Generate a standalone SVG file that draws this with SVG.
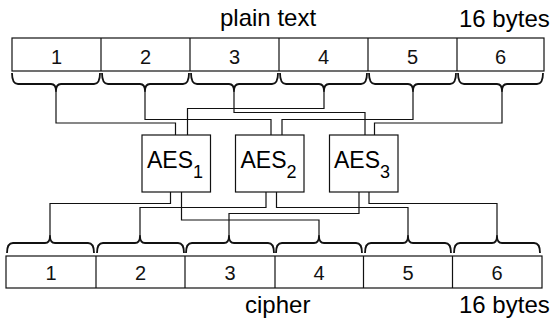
<svg xmlns="http://www.w3.org/2000/svg" width="554" height="324" viewBox="0 0 554 324">
  <style>
    .cell { fill: #fff; stroke: #111; stroke-width: 1.2; }
    .num { font-family: "Liberation Sans", Arial, sans-serif; font-size: 20px; fill: #111; text-anchor: middle; }
    .lbl { font-family: "Liberation Sans", Arial, sans-serif; font-size: 24px; fill: #000; }
    .aes { font-family: "Liberation Sans", Arial, sans-serif; font-size: 23px; fill: #000; }
    .sub { font-size: 18px; }
    .brace { fill: none; stroke: #111; stroke-width: 1.8; stroke-linejoin: round; }
    .wire { fill: none; stroke: #111; stroke-width: 1.2; }
    .box { fill: #fff; stroke: #111; stroke-width: 1.2; }
  </style>

  <!-- plaintext block -->
  <g id="plain">
    <text class="lbl" x="220" y="26">plain text</text>
    <text class="lbl" x="459" y="27">16 bytes</text>
    <rect class="cell" x="12" y="38" width="532" height="33"/>
    <path class="cell" d="M101,38V71M190,38V71M279,38V71M368,38V71M457,38V71"/>
    <text class="num" x="56.5" y="64">1</text>
    <text class="num" x="145.5" y="64">2</text>
    <text class="num" x="234.5" y="64">3</text>
    <text class="num" x="323.5" y="64">4</text>
    <text class="num" x="412.5" y="64">5</text>
    <text class="num" x="500.5" y="64">6</text>
    <!-- braces under each plaintext cell -->
    <path class="brace" d="M12,73Q12,84 18,84L51,84Q56,84 56,91Q56,84 61,84L94,84Q100,84 100,73"/>
    <path class="brace" d="M102,73Q102,84 108,84L140,84Q145,84 145,91Q145,84 150,84L183,84Q189,84 189,73"/>
    <path class="brace" d="M191,73Q191,84 197,84L229,84Q234,84 234,91Q234,84 239,84L272,84Q278,84 278,73"/>
    <path class="brace" d="M280,73Q280,84 286,84L319,84Q324,84 324,91Q324,84 329,84L361,84Q367,84 367,73"/>
    <path class="brace" d="M369,73Q369,84 375,84L408,84Q413,84 413,91Q413,84 418,84L450,84Q456,84 456,73"/>
    <path class="brace" d="M458,73Q458,84 464,84L497,84Q502,84 502,91Q502,84 507,84L537,84Q543,84 543,73"/>
  </g>

  <!-- cipher block -->
  <g id="cipher">
    <rect class="cell" x="6" y="256" width="536" height="32"/>
    <path class="cell" d="M96,256V288M185,256V288M275,256V288M363.5,256V288M452.5,256V288"/>
    <text class="num" x="51" y="280">1</text>
    <text class="num" x="140.5" y="280">2</text>
    <text class="num" x="230" y="280">3</text>
    <text class="num" x="319" y="280">4</text>
    <text class="num" x="408" y="280">5</text>
    <text class="num" x="497" y="280">6</text>
    <text class="lbl" x="245" y="313">cipher</text>
    <text class="lbl" x="459" y="313">16 bytes</text>
    <!-- braces above each cipher cell -->
    <path class="brace" d="M7,253Q7,243 13,243L45,243Q50,243 50,236Q50,243 55,243L88,243Q94,243 94,253"/>
    <path class="brace" d="M97,253Q97,243 103,243L135,243Q140,243 140,236Q140,243 145,243L178,243Q184,243 184,253"/>
    <path class="brace" d="M186,253Q186,243 192,243L224,243Q229,243 229,236Q229,243 234,243L268,243Q274,243 274,253"/>
    <path class="brace" d="M276,253Q276,243 282,243L314,243Q319,243 319,236Q319,243 324,243L356,243Q362,243 362,253"/>
    <path class="brace" d="M365,253Q365,243 371,243L403,243Q408,243 408,236Q408,243 413,243L445,243Q451,243 451,253"/>
    <path class="brace" d="M454,253Q454,243 460,243L492,243Q497,243 497,236Q497,243 502,243L534,243Q540,243 540,253"/>
  </g>

  <!-- wiring between byte groups and the AES units -->
  <g id="connectors">
    <path class="wire" d="M56,91V123H175.5V135"/>
    <path class="wire" d="M145,91V119.5H271V135"/>
    <path class="wire" d="M234,91V112.5H365V135"/>
    <path class="wire" d="M324,91V108.5H187.5V135"/>
    <path class="wire" d="M413,91V119.5H282V135"/>
    <path class="wire" d="M502,91V123H374.5V135"/>

    <path class="wire" d="M170.5,192V203.5H50V236"/>
    <path class="wire" d="M181.5,192V220H319V236"/>
    <path class="wire" d="M266,192V207.5H140V236"/>
    <path class="wire" d="M276.5,192V207.5H408V236"/>
    <path class="wire" d="M359,192V213.5H229V236"/>
    <path class="wire" d="M369,192V203.5H497V236"/>
  </g>

  <g id="aes1">
    <rect class="box" x="142" y="135" width="68.5" height="57"/>
    <text class="aes" x="147" y="168">AES<tspan class="sub" dy="10">1</tspan></text>
  </g>
  <g id="aes2">
    <rect class="box" x="235.5" y="135" width="68.5" height="57"/>
    <text class="aes" x="240.5" y="168">AES<tspan class="sub" dy="10">2</tspan></text>
  </g>
  <g id="aes3">
    <rect class="box" x="329.5" y="135" width="68.5" height="57"/>
    <text class="aes" x="334" y="168">AES<tspan class="sub" dy="10">3</tspan></text>
  </g>
</svg>
